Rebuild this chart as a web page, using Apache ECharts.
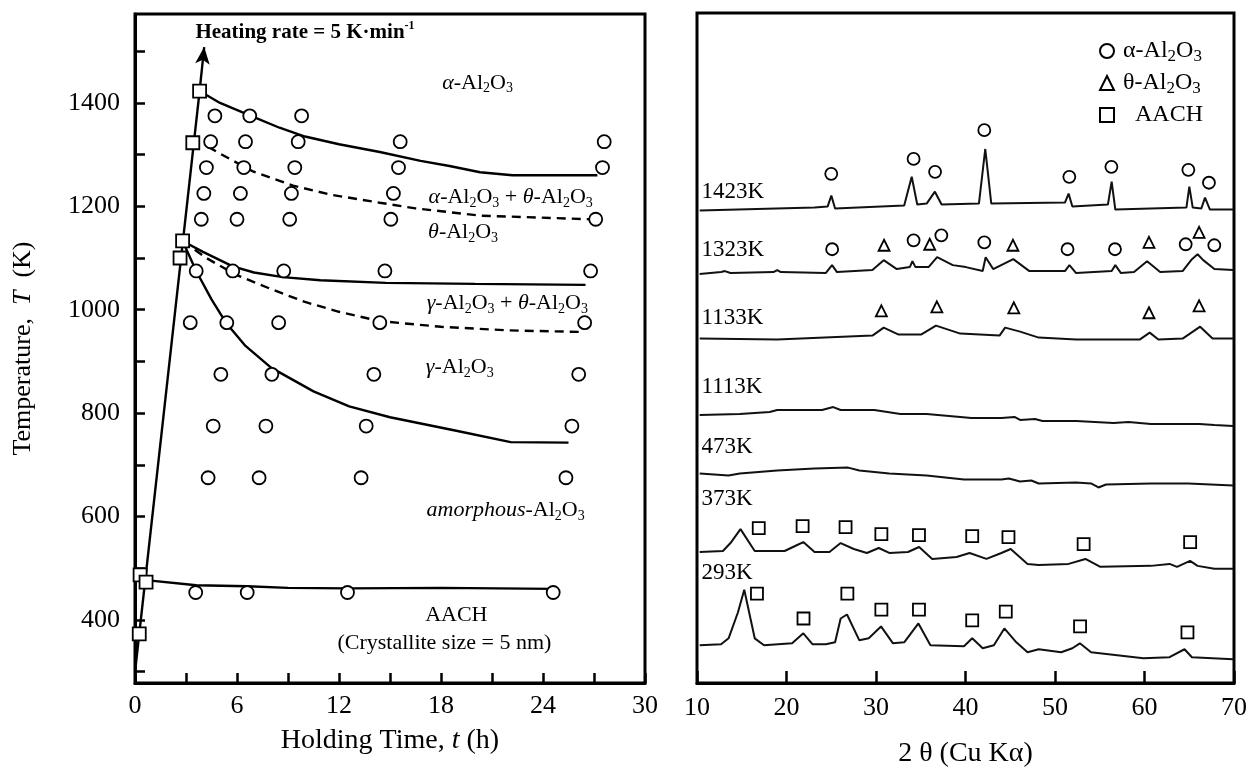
<!DOCTYPE html>
<html><head><meta charset="utf-8">
<script src="https://cdn.jsdelivr.net/npm/echarts@6/dist/echarts.min.js"></script>
<style>html,body{margin:0;padding:0;background:#fff}#c{width:1250px;height:773px}</style>
</head><body><div id="c"></div>
<script>
// ---------- LEFT PANEL DATA (t in h, T in K) ----------
const leftXLabels = [0, 6, 12, 18, 24, 30];
const leftYLabels = [400, 600, 800, 1000, 1200, 1400];
const leftYTicks = [300, 400, 500, 600, 700, 800, 900, 1000, 1100, 1200, 1300, 1400, 1500];
const rampLine = [[0, 299], [3.8, 1423]];
const rampArrow = [[3.8, 1423], [4.07, 1508]];
const rampSquares = [[0.25, 373], [0.3, 487], [0.65, 473], [2.65, 1100], [2.8, 1133], [3.4, 1323], [3.8, 1423]];
const alphaBoundary = [[3.8,1423],[5,1400],[6.75,1376],[8.5,1352],[10,1335],[12,1320],[14.4,1305],[16.8,1288],[18.5,1278],[20.3,1266],[22.2,1260],[27.2,1260]];
const alphaThetaBoundary = [[4.3,1315],[5,1302],[6.9,1268],[9.3,1240],[11.6,1222],[14.4,1207],[16.5,1196],[20.3,1182],[26.8,1175]];
const thetaGammaBoundary = [[2.8,1133],[4,1112],[5.75,1084],[7,1072],[8.7,1063],[10.9,1057],[14.75,1052],[20,1050],[26.5,1048]];
const gammaThetaBoundary = [[2.8,1133],[4.2,1100],[5.9,1068],[8,1040],[10,1015],[12,996],[14.4,978],[18,967],[22,960],[26.3,957]];
const gammaBoundary = [[2.8,1133],[3.6,1075],[4.5,1020],[5.35,975],[6.5,930],[8,888],[10.5,842],[12.6,813],[15,792],[18.9,766],[22.1,744],[25.5,743]];
const aachBoundary = [[0.65,477],[3.6,467],[6.6,465],[9,462],[12.5,461],[18,462],[24.6,460]];
const phaseCircles = [
  [4.7,1375],[6.75,1375],[9.8,1375],
  [4.45,1325],[6.5,1325],[9.6,1325],[15.6,1325],[27.6,1325],
  [4.2,1275],[6.4,1275],[9.4,1275],[15.5,1275],[27.5,1275],
  [4.05,1225],[6.2,1225],[9.2,1225],[15.2,1225],
  [3.9,1175],[6.0,1175],[9.1,1175],[15.05,1175],[27.1,1175],
  [3.6,1075],[5.75,1075],[8.75,1075],[14.7,1075],[26.8,1075],
  [3.25,975],[5.4,975],[8.45,975],[14.4,975],[26.45,975],
  [5.05,875],[8.05,875],[14.05,875],[26.1,875],
  [4.6,775],[7.7,775],[13.6,775],[25.7,775],
  [4.3,675],[7.3,675],[13.3,675],[25.35,675],
  [3.57,453],[6.6,453],[12.5,453],[24.6,453]
];

// ---------- RIGHT PANEL DATA (2θ in deg, intensity in a.u.) ----------
const rightXLabels = [10, 20, 30, 40, 50, 60, 70];
const traceNames = ['1423K', '1323K', '1133K', '1113K', '473K', '373K', '293K'];
const traceLabelLevels = [495, 436, 368, 298, 238, 185, 111];
const trace1423 = [[10.3,476],[23.13,479],[24.59,480],[25.01,491],[25.43,478],[33.15,481],[33.99,510],[34.61,482],[35.66,483],[36.58,495],[37.33,482],[41.5,483],[42.21,538],[42.88,483],[51.11,484],[51.52,493],[51.94,480],[55.91,482],[56.33,505],[56.74,477],[64.68,479],[65.01,500],[65.39,479],[66.35,478],[66.76,489],[67.31,477],[69.9,477]];
const trace1323 = [[10.3,412],[12.69,414],[13.11,415],[13.74,413],[18.54,414],[18.96,416],[19.37,414],[24.38,413],[25.09,421],[25.64,414],[29.6,416],[30.86,426],[32.32,417],[33.78,419],[34.07,425],[34.41,419],[35.87,419],[36.83,429],[38.58,421],[40.04,419],[41.92,415],[42.25,429],[43.09,417],[45.34,427],[47.14,415],[51.11,415],[51.61,421],[52.36,413],[56.33,415],[56.74,421],[57.37,413],[58.83,414],[60.29,425],[61.75,414],[64.26,415],[65.3,427],[65.93,432],[66.56,426],[67.81,417],[69.9,416]];
const trace1133 = [[10.3,347],[18.96,346],[29.6,350],[30.86,358],[32.53,351],[35.03,351],[36.7,360],[39.42,352],[43.8,350],[44.43,358],[46.1,354],[48.18,348],[52.36,346],[59.46,346],[60.58,353],[61.55,346],[64.26,347],[66.22,359],[67.6,347],[69.9,347]];
const trace1113 = [[10.3,270],[14.78,271],[18.12,273],[18.96,275],[23.97,275],[25.22,278],[26.05,275],[29.81,275],[32.73,271],[35.66,271],[38.16,269],[40.67,267],[44.01,267],[45.47,268],[46.1,265],[47.77,266],[48.6,264],[52.36,264],[56.54,262],[58.21,263],[60.71,261],[66.14,261],[67.81,260],[69.9,259]];
const trace473 = [[10.3,211],[13.53,209],[14.78,211],[18.96,214],[23.13,216],[26.89,217],[28.14,214],[31.48,211],[35.66,209],[39.83,205],[44.01,205],[44.84,206],[46.1,203],[47.35,204],[48.18,201],[52.36,202],[54.03,201],[54.86,197],[55.7,200],[60.71,201],[64.89,201],[69.9,199]];
const trace373 = [[10.3,132],[12.9,133],[13.74,141],[14.86,155],[16.45,133],[19.79,133],[20.96,138],[21.88,142],[23.13,132],[24.8,132],[26.05,141],[27.52,135],[28.98,131],[30.31,136],[31.48,131],[33.57,132],[34.82,137],[36.28,125],[39.0,127],[40.46,131],[42.34,125],[44.01,131],[45.05,135],[46.93,120],[48.18,119],[51.52,120],[53.4,125],[55.07,117],[60.71,118],[62.8,120],[63.63,117],[65.09,123],[65.93,118],[67.81,115],[69.9,115]];
const trace293 = [[10.3,38],[12.69,39],[13.53,45],[14.57,71],[15.28,94],[16.45,45],[17.49,38],[20.63,40],[21.88,50],[22.92,39],[24.38,39],[25.43,41],[26.05,65],[26.76,69],[28.14,43],[29.19,45],[30.56,57],[31.9,40],[33.15,41],[34.74,60],[36.08,38],[39.83,37],[40.75,45],[41.92,35],[43.17,38],[44.34,55],[45.68,41],[46.93,31],[48.18,34],[50.69,31],[51.94,35],[52.78,40],[54.03,31],[59.87,25],[62.8,26],[64.47,34],[65.3,26],[69.9,24]];
const alphaMarks = [[25.0,513],[34.2,528],[36.6,515],[42.1,557],[51.6,510],[56.3,520],[64.9,517],[67.2,504],[25.1,437],[34.2,446],[37.3,451],[42.1,444],[51.4,437],[56.7,437],[64.6,442],[67.8,441]];
const thetaMarks = [[30.9,441],[36.0,442],[45.3,441],[60.5,444],[66.1,454],[30.6,375],[36.8,379],[45.4,378],[60.5,373],[66.1,380]];
const aachMarks = [[16.9,156],[21.8,158],[26.6,157],[30.6,150],[34.8,149],[40.75,148],[44.8,147],[53.2,140],[65.1,142],[16.7,90],[21.9,65],[26.8,90],[30.6,74],[34.8,74],[40.75,63],[44.5,72],[52.8,57],[64.8,51]];

// ---------- STYLE ----------
const SERIF = "'Liberation Serif','Times New Roman','DejaVu Serif',serif";
const INK = '#000';
const rich = (fs, subScale) => ({
  n: {fontFamily: SERIF, fontSize: fs, color: INK, lineHeight: fs + 4, verticalAlign: 'middle'},
  p: {fontFamily: SERIF, fontSize: fs, color: INK, lineHeight: fs + 4, verticalAlign: 'middle', padding: [0, 0, 0, 4]},
  i: {fontFamily: SERIF, fontSize: fs, color: INK, lineHeight: fs + 4, verticalAlign: 'middle', fontStyle: 'italic'},
  s: {fontFamily: SERIF, fontSize: Math.round(fs * (subScale || 0.64)), color: INK, lineHeight: Math.round(fs * (subScale || 0.64)), verticalAlign: 'bottom'},
  b: {fontFamily: SERIF, fontSize: fs, color: INK, lineHeight: fs + 4, verticalAlign: 'middle', fontWeight: 'bold'},
  u: {fontFamily: SERIF, fontSize: Math.round(fs * 0.55), color: INK, lineHeight: Math.round(fs * 0.55), verticalAlign: 'top', fontWeight: 'bold'}
});
const al2o3 = (g, italic) => `{${italic ? 'i' : 'n'}|${g}}{n|-Al}{s|2}{n|O}{s|3}`;

const leftNotes = [
  {value: [10.0, 1537], text: '{b|Heating rate = 5 K·min}{u|-1}', fs: 21},
  {value: [20.15, 1439], text: al2o3('α', true), fs: 22},
  {value: [22.1, 1218], text: al2o3('α', true) + '{n| + }' + al2o3('θ', true), fs: 22},
  {value: [19.3, 1149], text: al2o3('θ', true), fs: 22},
  {value: [21.9, 1013], text: al2o3('γ', true) + '{n| + }' + al2o3('θ', true), fs: 22},
  {value: [19.1, 889], text: al2o3('γ', true), fs: 22},
  {value: [21.8, 612], text: al2o3('amorphous', true), fs: 22},
  {value: [18.9, 410], text: '{n|AACH}', fs: 22},
  {value: [18.2, 355], text: '{n|(Crystallite size = 5 nm)}', fs: 22}
];

const lineS = (data, dashed, extra) => Object.assign({
  type: 'line', xAxisIndex: 0, yAxisIndex: 0, data, symbol: 'none', smooth: false,
  lineStyle: {color: INK, width: 2.4, type: dashed ? [9, 6] : 'solid', opacity: 1}, silent: true, z: 2
}, extra || {});
const traceS = (data) => ({
  type: 'line', xAxisIndex: 1, yAxisIndex: 1, data, symbol: 'none',
  lineStyle: {color: '#111', width: 2, opacity: 1}, silent: true, z: 2
});
const hollow = {color: '#fff', borderColor: INK, borderWidth: 1.8, opacity: 1};
const plainLabel = {fontFamily: SERIF, fontSize: 26, color: INK, formatter: (v) => String(v)};

const traces = [trace1423, trace1323, trace1133, trace1113, trace473, trace373, trace293];

const option = {
  animation: false,
  backgroundColor: '#fff',
  grid: [
    {left: 135, top: 14, width: 510, height: 669, show: true, borderColor: INK, borderWidth: 3, backgroundColor: 'transparent'},
    {left: 697, top: 13, width: 542, height: 675, show: true, borderColor: INK, borderWidth: 3, backgroundColor: 'transparent'}
  ],
  xAxis: [
    {gridIndex: 0, type: 'value', min: 0, max: 30, interval: 3,
      axisLine: {show: true, lineStyle: {color: INK, width: 3}},
      axisTick: {show: true, inside: true, length: 10, lineStyle: {color: INK, width: 2.5}},
      axisLabel: Object.assign({customValues: leftXLabels, margin: 10}, plainLabel),
      splitLine: {show: false},
      name: '{n|Holding Time, }{i|t}{n| (h)}', nameLocation: 'middle', nameGap: 42,
      nameTextStyle: {rich: rich(28)}},
    {gridIndex: 1, type: 'value', min: 10, max: 70, interval: 10,
      axisLine: {show: true, lineStyle: {color: INK, width: 3}},
      axisTick: {show: true, inside: true, length: 12, lineStyle: {color: INK, width: 2.5}},
      axisLabel: Object.assign({customValues: rightXLabels, margin: 12}, plainLabel),
      splitLine: {show: false},
      name: '{n|2 θ (Cu Kα)}', nameLocation: 'middle', nameGap: 55,
      nameTextStyle: {rich: rich(28)}},
  ],
  yAxis: [
    {gridIndex: 0, type: 'value', min: 278, max: 1572,
      axisLine: {show: true, lineStyle: {color: INK, width: 3}},
      axisTick: {show: true, inside: true, length: 10, customValues: leftYTicks, lineStyle: {color: INK, width: 2.5}},
      axisLabel: Object.assign({customValues: leftYLabels, margin: 15}, plainLabel),
      splitLine: {show: false},
      name: '{n|Temperature,  }{i|T}{n|  (K)}', nameLocation: 'middle', nameGap: 97, nameRotate: 90,
      nameTextStyle: {rich: rich(26)}},
    {gridIndex: 1, type: 'value', min: 0, max: 675, show: false, splitLine: {show: false}}
  ],
  legend: {
    data: ['α-Al2O3', 'θ-Al2O3', 'AACH'],
    orient: 'vertical', left: 1094, top: 34, itemWidth: 14, itemHeight: 14, itemGap: 6,
    formatter: (nm) => nm === 'AACH' ? '{p|  AACH}' : `{p|${nm[0]}-Al}{s|2}{n|O}{s|3}`,
    textStyle: {rich: rich(24, 0.7)}
  },
  series: [
    lineS(rampLine, false, {markLine: {silent: true, symbol: ['none', 'arrow'], symbolSize: [11, 17],
      lineStyle: {color: INK, width: 2.4, type: 'solid', opacity: 1}, itemStyle: {color: INK}, label: {show: false},
      data: [[{coord: rampArrow[0]}, {coord: rampArrow[1]}]]}}),
    lineS(alphaBoundary, false),
    lineS(alphaThetaBoundary, true),
    lineS(thetaGammaBoundary, false),
    lineS(gammaThetaBoundary, true),
    lineS(gammaBoundary, false),
    lineS(aachBoundary, false),
    {type: 'scatter', name: 'phase points', xAxisIndex: 0, yAxisIndex: 0, data: phaseCircles,
      symbol: 'circle', symbolSize: 13, itemStyle: hollow, z: 4, silent: true},
    {type: 'scatter', name: 'heating points', xAxisIndex: 0, yAxisIndex: 0, data: rampSquares,
      symbol: 'rect', symbolSize: 13, itemStyle: hollow, z: 5, silent: true},
    {type: 'scatter', name: 'notes', xAxisIndex: 0, yAxisIndex: 0, symbolSize: 1, silent: true, z: 6,
      itemStyle: {color: 'rgba(0,0,0,0)', opacity: 1},
      data: leftNotes.map(d => ({value: d.value, label: {show: true, position: 'inside', color: INK, formatter: d.text, rich: rich(d.fs)}}))},
    ...traces.map(traceS),
    {type: 'scatter', name: 'α-Al2O3', xAxisIndex: 1, yAxisIndex: 1, data: alphaMarks,
      symbol: 'circle', symbolSize: 12, itemStyle: hollow, z: 4, silent: true},
    {type: 'scatter', name: 'θ-Al2O3', xAxisIndex: 1, yAxisIndex: 1, data: thetaMarks,
      symbol: 'triangle', symbolSize: 11, itemStyle: hollow, z: 4, silent: true},
    {type: 'scatter', name: 'AACH', xAxisIndex: 1, yAxisIndex: 1, data: aachMarks,
      symbol: 'rect', symbolSize: 12, itemStyle: hollow, z: 4, silent: true},
    {type: 'scatter', name: 'trace labels', xAxisIndex: 1, yAxisIndex: 1, symbolSize: 1, silent: true, z: 6,
      itemStyle: {color: 'rgba(0,0,0,0)', opacity: 1},
      data: traceNames.map((nm, k) => ({value: [10.45, traceLabelLevels[k]], name: nm})),
      label: {show: true, position: 'right', distance: 0, formatter: '{b}', fontFamily: SERIF, fontSize: 23, color: INK}}
  ]
};
const chart = echarts.init(document.getElementById('c'), null, {renderer: 'canvas'});
chart.setOption(option);
</script>
</body></html>
